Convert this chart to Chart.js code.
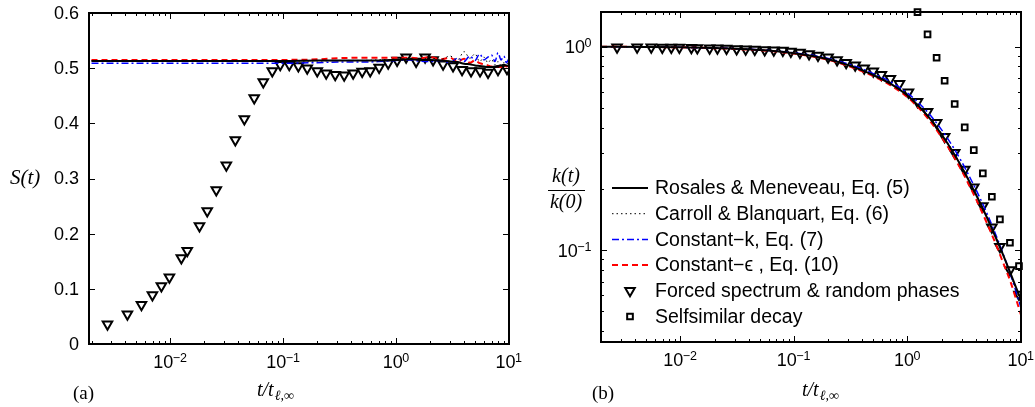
<!DOCTYPE html>
<html>
<head>
<meta charset="utf-8">
<script src="https://cdn.jsdelivr.net/npm/chart.js@4.4.0/dist/chart.umd.min.js"></script>
<style>
  html, body { margin: 0; padding: 0; background: #fff; }
  #wrap { position: relative; width: 1035px; height: 407px; overflow: hidden; }
  canvas { position: absolute; top: 0; }
  #skewness { left: 0; }
  #energy { left: 545px; }
</style>
</head>
<body>
<div id="wrap">
  <canvas id="skewness" width="545" height="407"></canvas>
  <canvas id="energy" width="490" height="407"></canvas>
</div>
<script>
// ---- data -------------------------------------------------------------

// DNS samples (forced spectrum & random phases), times in t / t_l,inf
const tForced = [0.00277, 0.00416, 0.00554, 0.00693, 0.00832, 0.0098, 0.0125, 0.0141, 0.0181, 0.0212,
                 0.0255, 0.0313, 0.0376, 0.0452, 0.0553, 0.0665, 0.0799, 0.094, 0.113, 0.136,
                 0.163, 0.200, 0.240, 0.2885, 0.3465, 0.416, 0.500, 0.589, 0.707, 0.850,
                 1.02, 1.226, 1.503, 1.806, 2.125, 2.606, 3.193, 3.838, 4.61, 5.538,
                 6.52, 7.99, 9.60];
const skewForced = [0.036, 0.054, 0.071, 0.089, 0.105, 0.121, 0.156, 0.169, 0.214, 0.241,
                    0.279, 0.324, 0.370, 0.408, 0.446, 0.475, 0.495, 0.506, 0.506, 0.504,
                    0.500, 0.495, 0.491, 0.488, 0.487, 0.491, 0.494, 0.495, 0.501, 0.509,
                    0.514, 0.520, 0.512, 0.520, 0.515, 0.507, 0.504, 0.497, 0.495, 0.495,
                    0.492, 0.497, 0.499];
const kForced = [0.995, 0.994, 0.993, 0.992, 0.991, 0.990, 0.988, 0.987, 0.984, 0.982,
                 0.979, 0.976, 0.972, 0.968, 0.964, 0.961, 0.958, 0.948, 0.936, 0.921,
                 0.905, 0.887, 0.860, 0.833, 0.810, 0.783, 0.757, 0.728, 0.696, 0.657,
                 0.598, 0.536, 0.479, 0.423, 0.361, 0.301, 0.249, 0.2034, 0.1646, 0.1293,
                 0.1038, 0.0797, 0.0605];

// self-similar decay run
const tSelf = [1.226, 1.503, 1.806, 2.125, 2.606, 3.193, 3.838, 4.61, 5.538, 6.52, 7.99, 9.60];
const kSelf = [1.48, 1.151, 0.883, 0.680, 0.523, 0.4015, 0.310, 0.2384, 0.1829, 0.1416, 0.1086, 0.0834];

// forcing-model runs, skewness S(t)
const tSkew = [0.002, 0.01, 0.05, 0.1, 0.2, 0.3, 0.5, 0.7, 1, 1.3, 1.6, 2, 2.5, 3,
               3.5, 4, 4.5, 5, 5.5, 6, 6.5, 7, 7.5, 8, 8.5, 9, 9.5, 10];
const skewRosales  = [0.513, 0.513, 0.513, 0.513, 0.514, 0.514, 0.514, 0.514, 0.515, 0.516, 0.515, 0.515, 0.514, 0.512,
                      0.511, 0.508, 0.507, 0.505, 0.504, 0.503, 0.502, 0.502, 0.503, 0.504, 0.505, 0.506, 0.505, 0.504];
const skewCarroll  = [0.513, 0.513, 0.513, 0.513, 0.513, 0.514, 0.514, 0.515, 0.516, 0.517, 0.516, 0.518, 0.516, 0.522,
                      0.515, 0.530, 0.518, 0.526, 0.512, 0.520, 0.510, 0.516, 0.506, 0.512, 0.505, 0.510, 0.508, 0.510];
const skewConstK   = [0.509, 0.509, 0.509, 0.509, 0.510, 0.511, 0.511, 0.512, 0.514, 0.515, 0.513, 0.512, 0.514, 0.510,
                      0.518, 0.512, 0.522, 0.514, 0.526, 0.515, 0.520, 0.524, 0.512, 0.528, 0.515, 0.522, 0.510, 0.518];
const skewConstEps = [0.515, 0.515, 0.515, 0.515, 0.516, 0.518, 0.519, 0.519, 0.519, 0.519, 0.518, 0.520, 0.516, 0.519,
                      0.512, 0.517, 0.510, 0.514, 0.509, 0.507, 0.505, 0.503, 0.502, 0.504, 0.502, 0.506, 0.503, 0.505];

// forcing-model runs, normalised kinetic energy k(t)/k(0)
const tModel = [0.002, 0.005, 0.01, 0.02, 0.03, 0.05, 0.07, 0.1, 0.15, 0.2, 0.3, 0.4, 0.5, 0.7,
                1, 1.5, 2, 2.5, 3, 4, 5, 6, 7, 8, 9, 10];
const kRosales  = [1.0, 0.997, 0.993, 0.985, 0.978, 0.964, 0.950, 0.930, 0.898, 0.868, 0.812, 0.765, 0.725, 0.660,
                   0.575, 0.458, 0.370, 0.305, 0.256, 0.188, 0.145, 0.115, 0.094, 0.078, 0.066, 0.057];
const kCarroll  = [1.0, 0.997, 0.993, 0.985, 0.978, 0.965, 0.951, 0.932, 0.901, 0.871, 0.816, 0.769, 0.729, 0.664,
                   0.579, 0.462, 0.374, 0.309, 0.259, 0.190, 0.147, 0.116, 0.094, 0.077, 0.064, 0.054];
const kConstK   = [1.0, 0.997, 0.993, 0.986, 0.979, 0.966, 0.953, 0.934, 0.905, 0.876, 0.823, 0.777, 0.738, 0.675,
                   0.592, 0.478, 0.390, 0.324, 0.272, 0.199, 0.152, 0.119, 0.095, 0.077, 0.063, 0.052];
const kConstEps = [1.0, 0.997, 0.993, 0.984, 0.976, 0.962, 0.947, 0.926, 0.893, 0.862, 0.805, 0.757, 0.716, 0.650,
                   0.565, 0.447, 0.359, 0.295, 0.246, 0.179, 0.136, 0.107, 0.086, 0.071, 0.058, 0.048];

// axis ticks
const skewTicks = [0, 0.1, 0.2, 0.3, 0.4, 0.5, 0.6];
const timeDecades = [-2, -1, 0, 1];
const energyDecades = [-1, 0];

const seriesNames = [
  'Rosales & Meneveau, Eq. (5)',
  'Carroll & Blanquart, Eq. (6)',
  'Constant\u2212k, Eq. (7)',
  'Constant\u2212\u03f5 , Eq. (10)',
  'Forced spectrum & random phases',
  'Selfsimilar decay'
];

// ---- styling helpers ---------------------------------------------------

const SANS = '"Liberation Sans", Arial, Helvetica, sans-serif';
const SERIF = '"Liberation Serif", "Times New Roman", serif';

const pts = (xs, ys) => xs.map((x, i) => ({ x, y: ys[i] }));

function lineSet(label, xs, ys, color, width, dash) {
  return {
    label, data: pts(xs, ys),
    borderColor: color, borderWidth: width, borderDash: dash,
    pointRadius: 0, fill: false, cubicInterpolationMode: 'monotone'
  };
}

function markerSet(label, xs, ys, style, radius, rotation) {
  return {
    label, data: pts(xs, ys), showLine: false,
    pointStyle: style, pointRadius: radius, pointRotation: rotation,
    pointBorderColor: '#000', pointBorderWidth: 2,
    pointBackgroundColor: 'rgba(0,0,0,0)', borderColor: '#000'
  };
}

function modelSets(xs, a, b, c, d) {
  return [
    lineSet(seriesNames[0], xs, a, '#000', 2, []),
    lineSet(seriesNames[1], xs, b, '#000', 1, [1.5, 3]),
    lineSet(seriesNames[2], xs, c, '#0000ff', 1.5, [7, 3, 2, 3]),
    lineSet(seriesNames[3], xs, d, '#ff0000', 2, [6, 4])
  ];
}

function logTicks(min, max) {
  const out = [];
  for (let e = Math.floor(Math.log10(min)); e <= Math.ceil(Math.log10(max)); e++) {
    for (let m = 1; m < 10; m++) {
      const v = m * Math.pow(10, e);
      if (v >= min * 0.999 && v <= max * 1.001) out.push({ v, major: m === 1 });
    }
  }
  return out;
}

function seg(ctx, x1, y1, x2, y2) {
  ctx.beginPath();
  ctx.moveTo(x1, y1);
  ctx.lineTo(x2, y2);
  ctx.stroke();
}

// "10" with a raised exponent; y is the baseline of "10"
function powLabel(ctx, x, y, exp, align) {
  const sup = String(exp).replace('-', '\u2212');
  ctx.font = `18px ${SANS}`;
  const wb = ctx.measureText('10').width;
  ctx.font = `12.5px ${SANS}`;
  const ws = ctx.measureText(sup).width;
  const x0 = align === 'center' ? x - (wb + ws) / 2 : x - wb - ws;
  ctx.textAlign = 'left';
  ctx.textBaseline = 'alphabetic';
  ctx.font = `18px ${SANS}`;
  ctx.fillText('10', x0, y);
  ctx.font = `12.5px ${SANS}`;
  ctx.fillText(sup, x0 + wb - 0.5, y - 6);
}

function xTitle(ctx, x, y) {
  ctx.textAlign = 'left';
  ctx.textBaseline = 'alphabetic';
  ctx.font = `italic 20px ${SERIF}`;
  ctx.fillText('t/t', x, y);
  const w = ctx.measureText('t/t').width;
  ctx.font = `italic 14px ${SERIF}`;
  ctx.fillText('\u2113,\u221e', x + w + 1, y + 4);
}

// box frame with inward ticks on all four sides, tick labels and titles
const boxAxes = {
  id: 'boxAxes',
  afterDatasetsDraw(chart, args, opts) {
    const { ctx, chartArea: a } = chart;
    const xs = chart.scales.x, ys = chart.scales.y;
    ctx.save();
    ctx.strokeStyle = '#000';
    ctx.fillStyle = '#000';
    ctx.lineWidth = 1;

    logTicks(xs.min, xs.max).forEach(t => {
      const px = Math.round(xs.getPixelForValue(t.v)) + 0.5;
      const len = t.major ? 6 : 3;
      seg(ctx, px, a.bottom, px, a.bottom - len);
      seg(ctx, px, a.top, px, a.top + len);
    });

    if (opts.logY) {
      logTicks(ys.min, ys.max).forEach(t => {
        const py = Math.round(ys.getPixelForValue(t.v)) + 0.5;
        const len = t.major ? 6 : 3;
        seg(ctx, a.left, py, a.left + len, py);
        seg(ctx, a.right, py, a.right - len, py);
      });
    } else {
      opts.yTicks.forEach(v => {
        const py = Math.round(ys.getPixelForValue(v)) + 0.5;
        seg(ctx, a.left, py, a.left + 6, py);
        seg(ctx, a.right, py, a.right - 6, py);
      });
    }

    ctx.lineWidth = 2;
    ctx.strokeRect(a.left, a.top, a.right - a.left, a.bottom - a.top);

    // x tick labels
    timeDecades.forEach(e => {
      powLabel(ctx, xs.getPixelForValue(Math.pow(10, e)), a.bottom + 24, e, 'center');
    });

    // y tick labels
    if (opts.logY) {
      energyDecades.forEach(e => {
        powLabel(ctx, a.left - 9, ys.getPixelForValue(Math.pow(10, e)) + 6.5, e, 'right');
      });
    } else {
      ctx.font = `18px ${SANS}`;
      ctx.textAlign = 'right';
      ctx.textBaseline = 'middle';
      opts.yTicks.forEach(v => {
        ctx.fillText(String(v), a.left - 10, ys.getPixelForValue(v) + 1);
      });
    }

    opts.titles(ctx, a);
    if (opts.legend) drawLegend(chart, opts.legend);
    ctx.restore();
  }
};

function drawLegend(chart, lg) {
  const ctx = chart.ctx;
  chart.data.datasets.forEach((ds, i) => {
    const y = lg.top + i * lg.step;
    ctx.save();
    ctx.strokeStyle = ds.pointBorderColor || ds.borderColor;
    if (ds.showLine === false) {
      ctx.lineWidth = 2;
      const cx = (lg.x0 + lg.x1) / 2;
      ctx.beginPath();
      if (ds.pointStyle === 'triangle') {
        const r = ds.pointRadius;
        ctx.moveTo(cx - r * 0.866, y - r * 0.5);
        ctx.lineTo(cx + r * 0.866, y - r * 0.5);
        ctx.lineTo(cx, y + r);
        ctx.closePath();
      } else {
        const s = ds.pointRadius * Math.SQRT1_2;
        ctx.rect(cx - s, y - s, 2 * s, 2 * s);
      }
      ctx.stroke();
    } else {
      ctx.lineWidth = ds.borderWidth;
      ctx.setLineDash(ds.borderDash || []);
      seg(ctx, lg.x0, y, lg.x1, y);
    }
    ctx.restore();
    ctx.fillStyle = '#000';
    ctx.font = `19.5px ${SANS}`;
    ctx.textAlign = 'left';
    ctx.textBaseline = 'middle';
    ctx.fillText(ds.label, lg.text, y + 1);
  });
}

function baseOptions(padding, x, y, axes) {
  return {
    responsive: false,
    animation: false,
    devicePixelRatio: 1,
    layout: { padding },
    scales: {
      x: Object.assign({ display: false }, x),
      y: Object.assign({ display: false }, y)
    },
    plugins: { legend: { display: false }, tooltip: { enabled: false }, boxAxes: axes }
  };
}

// ---- (a) skewness ------------------------------------------------------

new Chart(document.getElementById('skewness'), {
  type: 'line',
  data: {
    datasets: modelSets(tSkew, skewRosales, skewCarroll, skewConstK, skewConstEps)
      .concat([markerSet(seriesNames[4], tForced, skewForced, 'triangle', 5.5, 180)])
  },
  options: baseOptions(
    { left: 89, top: 13, right: 36, bottom: 63 },
    { type: 'logarithmic', min: 0.0019, max: 10 },
    { type: 'linear', min: 0, max: 0.6 },
    {
      yTicks: skewTicks,
      titles(ctx, a) {
        ctx.fillStyle = '#000';
        ctx.textAlign = 'left';
        ctx.textBaseline = 'alphabetic';
        ctx.font = `italic 21px ${SERIF}`;
        ctx.fillText('S(t)', 10, 184);
        xTitle(ctx, 257, 396);
        ctx.font = `19px ${SERIF}`;
        ctx.fillText('(a)', 73, 399);
      }
    }
  ),
  plugins: [boxAxes]
});

// ---- (b) kinetic energy ------------------------------------------------

new Chart(document.getElementById('energy'), {
  type: 'line',
  data: {
    datasets: modelSets(tModel, kRosales, kCarroll, kConstK, kConstEps).concat([
      markerSet(seriesNames[4], tForced, kForced, 'triangle', 5.5, 180),
      Object.assign(markerSet(seriesNames[5], tSelf, kSelf, 'rect', 4, 0), { clip: false })
    ])
  },
  options: baseOptions(
    { left: 56, top: 12, right: 14, bottom: 65 },
    { type: 'logarithmic', min: 0.002, max: 10 },
    { type: 'logarithmic', min: 0.0353, max: 1.482 },
    {
      logY: true,
      legend: { x0: 67, x1: 103, text: 110, top: 188, step: 25.7 },
      titles(ctx, a) {
        ctx.fillStyle = '#000';
        ctx.textAlign = 'center';
        ctx.textBaseline = 'alphabetic';
        ctx.font = `italic 20px ${SERIF}`;
        ctx.fillText('k(t)', 21, 182);
        ctx.fillText('k(0)', 21, 208);
        ctx.lineWidth = 1;
        seg(ctx, 3, 190.5, 40, 190.5);
        xTitle(ctx, 257, 396);
        ctx.textAlign = 'left';
        ctx.font = `19px ${SERIF}`;
        ctx.fillText('(b)', 47, 399);
      }
    }
  ),
  plugins: [boxAxes]
});
</script>
</body>
</html>
